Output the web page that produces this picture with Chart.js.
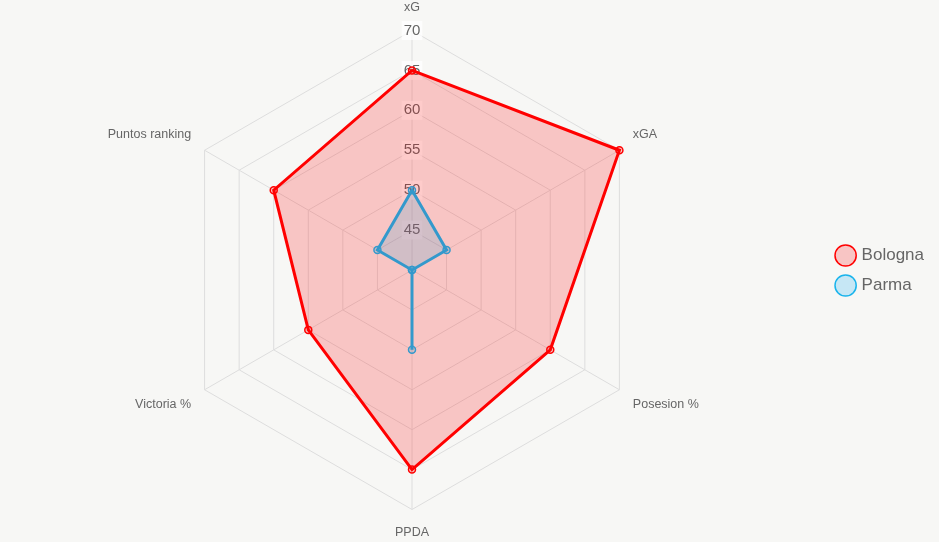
<!DOCTYPE html>
<html>
<head>
<meta charset="utf-8">
<script src="https://cdn.jsdelivr.net/npm/chart.js@4"></script>
<style>
  html,body{margin:0;padding:0;background:#f7f7f5;}
  #wrap{width:939px;height:542px;}
</style>
</head>
<body>
<div id="wrap"><canvas id="radar"></canvas></div>
<script>
  /* data */
  const labels=['xG','xGA','Posesion %','PPDA','Victoria %','Puntos ranking'];
  const bolognaValues=[65,70,60,65,55,60];
  const parmaValues=[50,45,40,50,40,45];

  Chart.defaults.font.family='"Liberation Sans", Arial, sans-serif';
  Chart.defaults.color='#666';

  new Chart(document.getElementById('radar'),{
    type:'radar',
    data:{
      labels:labels,
      datasets:[
        {label:'Bologna',data:bolognaValues,order:1,borderColor:'#ff0000',backgroundColor:'rgba(255,0,0,0.2)',
          borderWidth:3,pointRadius:3.5,pointBorderWidth:1.5,pointBackgroundColor:'rgba(255,0,0,0.2)',pointBorderColor:'#ff0000',fill:true},
        {label:'Parma',data:parmaValues,order:0,borderColor:'#3399cc',backgroundColor:'rgba(51,153,204,0.2)',
          borderWidth:3,pointRadius:3.5,pointBorderWidth:1.5,pointBackgroundColor:'rgba(51,153,204,0.2)',pointBorderColor:'#3399cc',fill:true}
      ]
    },
    options:{
      responsive:true,maintainAspectRatio:false,animation:false,
      layout:{padding:{top:0,bottom:1,right:5,left:0}},
      plugins:{
        legend:{
          position:'right',
          labels:{
            usePointStyle:true,pointStyle:'circle',boxWidth:15,boxHeight:15,padding:13,
            font:{size:17},color:'#666',
            generateLabels:()=>[
              {text:'Bologna',fillStyle:'rgba(255,0,0,0.2)',strokeStyle:'#ff0000',lineWidth:1.5,pointStyle:'circle',datasetIndex:0,fontColor:'#666'},
              {text:'Parma',fillStyle:'rgba(150,215,245,0.5)',strokeStyle:'#1ab4ec',lineWidth:1.5,pointStyle:'circle',datasetIndex:1,fontColor:'#666'}
            ]
          }
        },
        tooltip:{enabled:false}
      },
      scales:{
        r:{
          min:40,max:70,
          ticks:{stepSize:5,font:{size:15},color:'#666',backdropColor:'rgba(255,255,255,0.75)'},
          grid:{color:'#dddddd'},
          angleLines:{color:'#dddddd'},
          pointLabels:{font:{size:12.5},color:'#666',padding:6}
        }
      }
    }
  });
</script>
</body>
</html>
